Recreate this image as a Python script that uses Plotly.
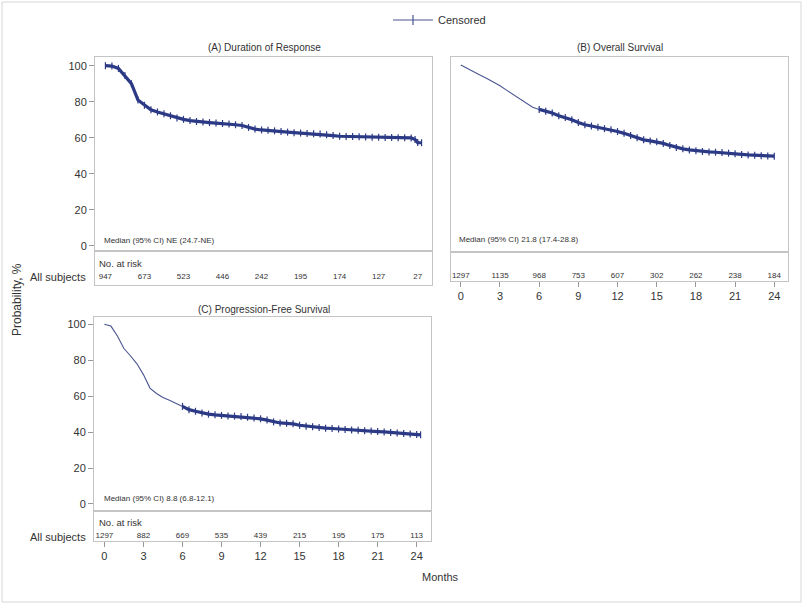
import plotly.graph_objects as go

# ---------------- data ----------------
months_a = [0, 0.5, 1.0, 1.5, 2.0, 2.5, 3.0, 3.5, 4.0, 4.5, 5.0, 5.5, 6.0, 6.5, 7.0, 7.5, 8.0, 8.5, 9.0, 9.5,
            10.0, 10.5, 11.0, 11.5, 12.0, 12.5, 13.0, 13.5, 14.0, 14.5, 15.0, 15.5, 16.0, 16.5, 17.0, 17.5,
            18.0, 18.5, 19.0, 19.5, 20.0, 20.5, 21.0, 21.5, 22.0, 22.5, 23.0, 23.5, 23.8, 24.0, 24.3]
surv_a = [100, 99.8, 98.5, 94.5, 90.0, 81.0, 78.0, 75.5, 74.3, 73.3, 72.2, 71.0, 70.2, 69.5, 69.0, 68.7, 68.4,
          68.1, 67.9, 67.6, 67.2, 66.8, 65.7, 64.8, 64.3, 64.1, 63.8, 63.4, 63.1, 62.8, 62.6, 62.4, 62.2, 62.0,
          61.7, 61.2, 60.8, 60.7, 60.6, 60.5, 60.4, 60.3, 60.2, 60.1, 60.1, 60.0, 60.0, 59.9, 59.0, 57.3, 57.2]

months_b = [0, 0.5, 1.0, 1.5, 2.0, 2.5, 3.0, 3.5, 4.0, 4.5, 5.0, 5.5, 6.0, 6.5, 7.0, 7.5, 8.0, 8.5, 9.0, 9.5,
            10.0, 10.5, 11.0, 11.5, 12.0, 12.5, 13.0, 13.5, 14.0, 14.5, 15.0, 15.5, 16.0, 16.5, 17.0, 17.5,
            18.0, 18.5, 19.0, 19.5, 20.0, 20.5, 21.0, 21.5, 22.0, 22.5, 23.0, 23.5, 24.0]
surv_b = [100, 98.0, 96.0, 94.3, 92.5, 90.5, 88.4, 86.0, 83.5, 81.0, 78.6, 76.5, 75.3, 74.3, 73.3, 71.8, 70.8,
          69.5, 68.0, 66.8, 66.1, 65.4, 64.6, 64.0, 63.0, 62.0, 60.8, 59.6, 58.4, 57.8, 57.3, 56.4, 55.3, 54.2,
          53.4, 52.8, 52.3, 51.9, 51.7, 51.5, 51.3, 51.0, 50.6, 50.3, 50.0, 49.8, 49.6, 49.4, 49.3]

months_c = [0, 0.5, 1.0, 1.5, 2.0, 2.5, 3.0, 3.5, 4.0, 4.5, 5.0, 5.5, 6.0, 6.5, 7.0, 7.5, 8.0, 8.5, 9.0, 9.5,
            10.0, 10.5, 11.0, 11.5, 12.0, 12.5, 13.0, 13.5, 14.0, 14.5, 15.0, 15.5, 16.0, 16.5, 17.0, 17.5,
            18.0, 18.5, 19.0, 19.5, 20.0, 20.5, 21.0, 21.5, 22.0, 22.5, 23.0, 23.5, 24.0, 24.3]
surv_c = [100, 99.0, 93.5, 86.5, 82.5, 78.0, 72.0, 64.5, 61.5, 59.3, 57.8, 56.2, 54.3, 52.5, 51.6, 50.7, 50.0,
          49.6, 49.3, 49.0, 48.9, 48.7, 48.3, 47.9, 47.4, 46.7, 45.7, 45.1, 44.9, 44.6, 43.8, 43.3, 43.0, 42.6,
          42.2, 42.0, 41.7, 41.4, 41.2, 41.0, 40.8, 40.6, 40.3, 40.1, 39.8, 39.5, 39.2, 39.0, 38.7, 38.5]

risk_months = [0, 3, 6, 9, 12, 15, 18, 21, 24]
risk_a = [947, 673, 523, 446, 242, 195, 174, 127, 27]
risk_b = [1297, 1135, 968, 753, 607, 302, 262, 238, 184]
risk_c = [1297, 882, 669, 535, 439, 215, 195, 175, 113]

# censoring is dense from this month onward (B and C); A is censored throughout
censor_start_a = 0
censor_start_b = 6
censor_start_c = 6

titles = ["(A) Duration of Response", "(B) Overall Survival", "(C) Progression-Free Survival"]
medians = ["Median (95% CI) NE (24.7-NE)", "Median (95% CI) 21.8 (17.4-28.8)", "Median (95% CI) 8.8 (6.8-12.1)"]
xticks = [0, 3, 6, 9, 12, 15, 18, 21, 24]
yticks = [0, 20, 40, 60, 80, 100]

# ---------------- styling ----------------
W, H = 803, 604
FONT = "Liberation Sans, Arial, sans-serif"
LINE_COL = "#4a5590"
MARK_COL = "#2c3a86"
FRAME = "#c4c4c4"
TXT = "#333333"


def px(x):
    return x / W


def py(y):
    return 1 - y / H


fig = go.Figure()

panels = [
    dict(t=months_a, s=surv_a, cs=censor_start_a, risk=risk_a, xa="x", ya="y", xr="x2", yr="y2",
         xdom=[px(95), px(432)], ymain=[py(251), py(57)], yrisk=[py(285), py(251)],
         xrange=[-0.8, 25.1], yrange=[-2.94, 104.83], ylab=True, xlab=False, risk_y=0.24),
    dict(t=months_b, s=surv_b, cs=censor_start_b, risk=risk_b, xa="x3", ya="y3", xr="x4", yr="y4",
         xdom=[px(451), px(788)], ymain=[py(252), py(57)], yrisk=[py(281), py(252)],
         xrange=[-0.75, 25.05], yrange=[-3.9, 104.4], ylab=False, xlab=True, risk_y=0.16),
    dict(t=months_c, s=surv_c, cs=censor_start_c, risk=risk_c, xa="x5", ya="y5", xr="x6", yr="y6",
         xdom=[px(94), px(431)], ymain=[py(511), py(317)], yrisk=[py(541), py(511)],
         xrange=[-0.8, 25.1], yrange=[-3.9, 104.06], ylab=True, xlab=True, risk_y=0.16),
]

for i, p in enumerate(panels):
    # full KM curve
    fig.add_trace(go.Scatter(x=p["t"], y=p["s"], mode="lines", xaxis=p["xa"], yaxis=p["ya"],
                             line=dict(color=LINE_COL, width=1.1), showlegend=False, hoverinfo="skip"))
    # censored part (thick band with tick marks)
    ct = [t for t in p["t"] if t >= p["cs"]]
    cv = [v for t, v in zip(p["t"], p["s"]) if t >= p["cs"]]
    fig.add_trace(go.Scatter(x=ct, y=cv, mode="lines+markers", xaxis=p["xa"], yaxis=p["ya"],
                             line=dict(color=MARK_COL, width=3.2),
                             marker=dict(symbol="line-ns-open", size=5, color=MARK_COL,
                                         line=dict(color=MARK_COL, width=1.2)),
                             showlegend=False, hoverinfo="skip"))
    # at-risk numbers
    fig.add_trace(go.Scatter(x=risk_months, y=[p["risk_y"]] * len(risk_months), mode="text",
                             text=[str(v) for v in p["risk"]], xaxis=p["xr"], yaxis=p["yr"],
                             textfont=dict(family=FONT, size=8, color=TXT), textposition="middle center",
                             showlegend=False, hoverinfo="skip"))

# legend-only trace
fig.add_trace(go.Scatter(x=[None], y=[None], mode="lines+markers", name="Censored", xaxis="x", yaxis="y",
                         line=dict(color=LINE_COL, width=1.1),
                         marker=dict(symbol="line-ns-open", size=7, color=LINE_COL,
                                     line=dict(color=LINE_COL, width=1.2))))

layout = dict(
    width=W, height=H, margin=dict(l=0, r=0, t=0, b=0),
    paper_bgcolor="white", plot_bgcolor="white",
    font=dict(family=FONT, color=TXT, size=11),
    showlegend=True,
    legend=dict(orientation="h", x=px(388), y=py(20), xanchor="left", yanchor="middle",
                font=dict(family=FONT, size=11, color=TXT), itemwidth=40, bgcolor="rgba(0,0,0,0)"),
)

axis_ids = ["", "2", "3", "4", "5", "6"]
for i, p in enumerate(panels):
    mx = "xaxis" + axis_ids[2 * i]
    my = "yaxis" + axis_ids[2 * i]
    rx = "xaxis" + axis_ids[2 * i + 1]
    ry = "yaxis" + axis_ids[2 * i + 1]
    layout[mx] = dict(domain=p["xdom"], range=p["xrange"], anchor=p["ya"], showgrid=False, zeroline=False,
                      showline=True, mirror=True, linecolor=FRAME, linewidth=1, showticklabels=False,
                      ticks="", fixedrange=True)
    layout[my] = dict(domain=p["ymain"], range=p["yrange"], anchor=p["xa"], showgrid=False, zeroline=False,
                      showline=True, mirror=True, linecolor=FRAME, linewidth=1,
                      tickvals=yticks if p["ylab"] else [], ticks="outside" if p["ylab"] else "",
                      ticklen=5, tickcolor="#999999", showticklabels=p["ylab"],
                      tickfont=dict(family=FONT, size=11, color=TXT))
    layout[rx] = dict(domain=p["xdom"], range=p["xrange"], anchor=p["yr"], showgrid=False, zeroline=False,
                      showline=True, mirror=True, linecolor=FRAME, linewidth=1,
                      tickvals=xticks if p["xlab"] else [], ticks="outside" if p["xlab"] else "",
                      ticklen=5, tickcolor="#999999", showticklabels=p["xlab"],
                      tickfont=dict(family=FONT, size=11, color=TXT))
    layout[ry] = dict(domain=p["yrisk"], range=[0, 1], anchor=p["xr"], showgrid=False, zeroline=False,
                      showline=True, mirror=True, linecolor=FRAME, linewidth=1, showticklabels=False,
                      ticks="")

fig.update_layout(**layout)


def note(text, x, y, size, xanchor="center", angle=0):
    return dict(text=text, x=px(x), y=py(y), xref="paper", yref="paper", xanchor=xanchor,
                yanchor="middle", showarrow=False, textangle=angle, font=dict(size=size))


ann = [
    note(titles[0], 264, 47, 10),
    note(titles[1], 620, 47, 10),
    note(titles[2], 264, 309, 10),
    note(medians[0], 102, 240, 8, "left"),
    note(medians[1], 457, 239, 8, "left"),
    note(medians[2], 102, 498, 8, "left"),
    note("Months", 440, 577, 11),
    note("Probability, %", 17, 300, 12, angle=-90),
]
for yy_n, yy_a in [(263, 277), (522, 537)]:
    ann.append(note("No. at risk", 97, yy_n, 9.5, "left"))
    ann.append(note("All subjects", 88, yy_a, 11, "right"))
fig.update_layout(annotations=ann)

# outer image frame
fig.add_shape(type="rect", xref="paper", yref="paper", x0=px(2), x1=px(801), y0=py(602), y1=py(2),
              line=dict(color="#d6d6d6", width=1))

fig.write_html("out.html", config={"displayModeBar": False},
               post_script="document.body.style.margin='0px';")
